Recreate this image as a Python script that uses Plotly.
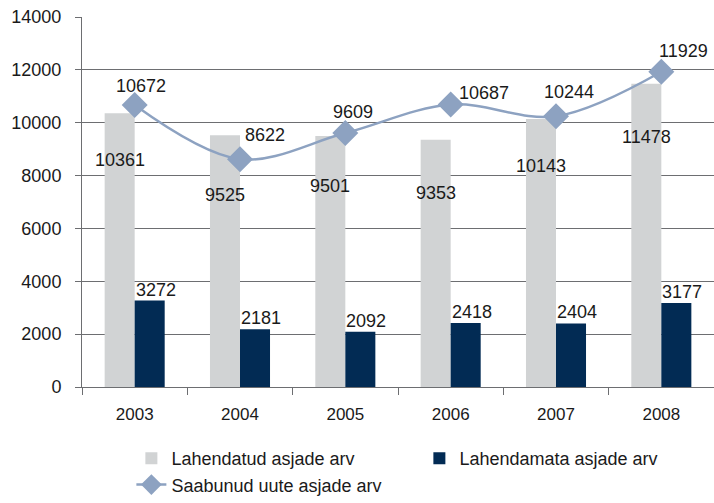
import plotly.graph_objects as go

years = ["2003", "2004", "2005", "2006", "2007", "2008"]
resolved = [10361, 9525, 9501, 9353, 10143, 11478]
unresolved = [3272, 2181, 2092, 2418, 2404, 3177]
incoming = [10672, 8622, 9609, 10687, 10244, 11929]

names = ["Lahendatud asjade arv", "Lahendamata asjade arv", "Saabunud uute asjade arv"]
y_ticks = [0, 2000, 4000, 6000, 8000, 10000, 12000, 14000]

GREY = "#d1d3d4"
NAVY = "#022b54"
LINE = "#8da2c1"
FONT = "Liberation Sans, Arial, sans-serif"

# pixel offsets for the value labels
resolved_dy = [-47, -60, -50, -53, -47, -53]
incoming_dx = [6, 25, 8, 33, 13, 22]
incoming_dy = [19, 24, 21, 12, 24, 21]

fig = go.Figure()
fig.add_trace(go.Bar(x=years, y=resolved, name=names[0], marker_color=GREY,
                     marker_line_width=0))
fig.add_trace(go.Bar(x=years, y=unresolved, name=names[1], marker_color=NAVY,
                     marker_line_width=0))
fig.add_trace(go.Scatter(x=years, y=incoming, name=names[2], mode="lines+markers",
                         line=dict(color=LINE, width=2.5, shape="spline", smoothing=1),
                         marker=dict(symbol="diamond", size=20, color=LINE)))

# annotations on a category axis are positioned by category index
annotations = []
for i in range(len(years)):
    annotations.append(dict(x=i, y=resolved[i], text=str(resolved[i]), showarrow=False,
                            xshift=-15, yshift=resolved_dy[i], font=dict(size=18)))
    annotations.append(dict(x=i, y=unresolved[i], text=str(unresolved[i]), showarrow=False,
                            xshift=21, yshift=11, font=dict(size=18)))
    annotations.append(dict(x=i, y=incoming[i], text=str(incoming[i]), showarrow=False,
                            xshift=incoming_dx[i], yshift=incoming_dy[i], font=dict(size=18)))

fig.update_layout(
    width=714, height=503,
    margin=dict(l=82, r=0, t=17, b=116, autoexpand=False),
    paper_bgcolor="white", plot_bgcolor="white",
    font=dict(family=FONT, size=17, color="#1a1a1a"),
    barmode="group", bargap=0.43, bargroupgap=0,
    annotations=annotations,
    showlegend=True,
    legend=dict(orientation="h", xref="container", x=0.184, xanchor="left",
                yref="container", y=-0.01, yanchor="bottom",
                entrywidth=243, font=dict(size=18), traceorder="normal",
                itemwidth=30, bgcolor="rgba(0,0,0,0)", tracegroupgap=0),
)
fig.update_xaxes(type="category", range=[-0.5, len(years) - 0.5], showline=True,
                 linecolor="#6d6e71", linewidth=1, ticks="outside", tickson="boundaries",
                 ticklen=7, tickcolor="#6d6e71", showgrid=False, tickangle=0,
                 tickfont=dict(size=17), ticklabelstandoff=12)
fig.update_yaxes(range=[0, 14000], tickvals=y_ticks, tickformat="d", showline=True,
                 linecolor="#6d6e71", linewidth=1, ticks="outside", ticklen=6,
                 tickcolor="#6d6e71", showgrid=True, gridcolor="#6d6e71", gridwidth=1,
                 zeroline=False, tickfont=dict(size=18), ticklabelstandoff=10)

fig.write_html("out.html")
